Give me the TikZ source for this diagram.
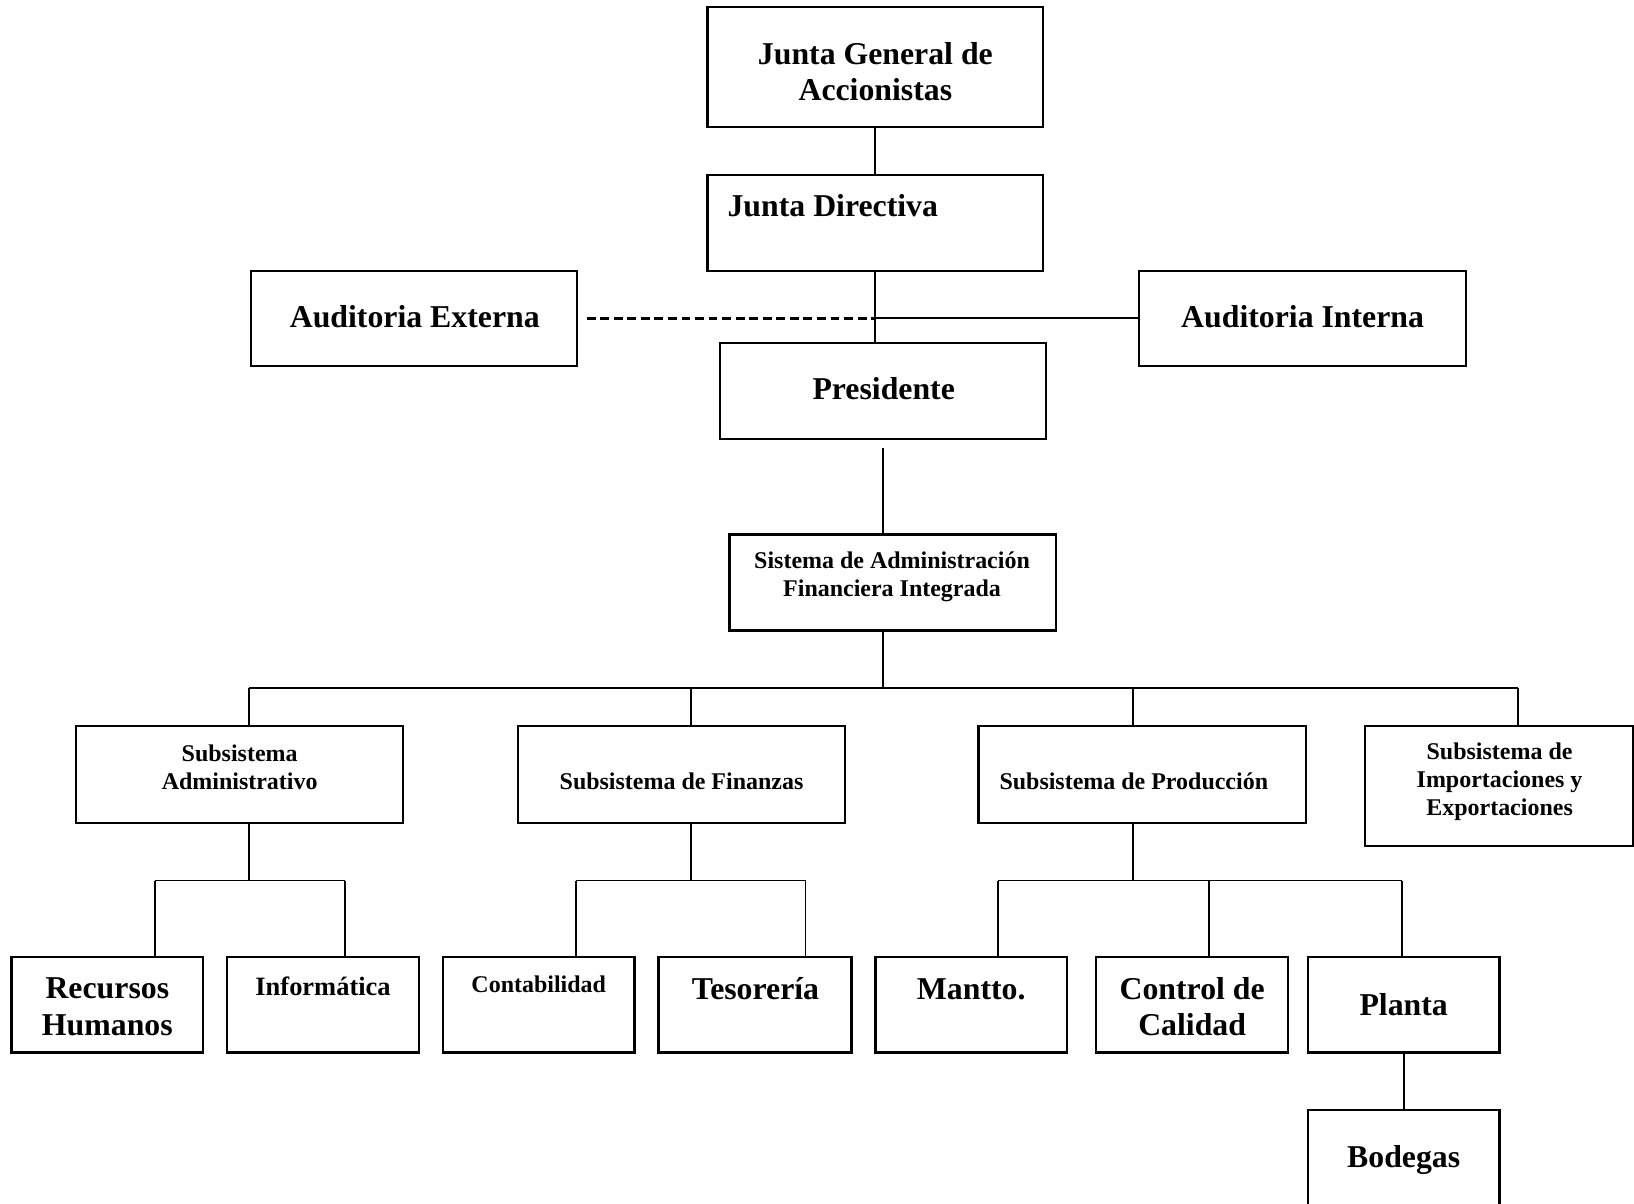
\documentclass[tikz,border=0pt]{standalone}
\usepackage{fontspec}
\setmainfont{Liberation Serif}
\usetikzlibrary{calc}
\begin{document}
\begin{tikzpicture}[x=1pt,y=-1pt,
  unit/.style={draw, rectangle, line width=2.2pt, inner sep=0pt, outer sep=0pt},
  big/.style={font=\fontsize{30.5}{35}\selectfont\bfseries, align=center, inner sep=0pt},
  mid/.style={font=\fontsize{25.4}{29}\selectfont\bfseries, align=center, inner sep=0pt},
  small/.style={font=\fontsize{23}{27}\selectfont\bfseries, align=center, inner sep=0pt},
  link/.style={line width=1.7pt},
  dashlink/.style={line width=2.6pt, dash pattern=on 8.5pt off 4.5pt}]
\useasboundingbox (0,0) rectangle (1568,1155);
\clip (0,0) rectangle (1568,1155);

% ---------- upper levels ----------
\node[unit, minimum width=322, minimum height=115] (jg) at (840,64.5) {};
\node[big] (jgT) at (840,68.5) {Junta General de\\Accionistas};

\node[unit, minimum width=322, minimum height=92] (jd) at (840,214) {};
\node[big, anchor=west] (jdT) at (698,197) {Junta Directiva};

\node[unit, minimum width=313, minimum height=91] (ae) at (397.5,305.5) {};
\node[big] (aeT) at (398,304) {Auditoria Externa};

\node[unit, minimum width=314, minimum height=91] (ai) at (1250,305.5) {};
\node[big] (aiT) at (1250,304) {Auditoria Interna};

\node[unit, minimum width=313, minimum height=92] (pr) at (847.5,375) {};
\node[big] (prT) at (848,373) {Presidente};

\node[unit, minimum width=313, minimum height=92] (sa) at (856.5,559) {};
\node[small] (saT) at (856,553.5) {Sistema de Administración\\Financiera Integrada};

% ---------- subsystems ----------
\node[unit, minimum width=314, minimum height=93] (s1) at (230,743.5) {};
\node[small] (s1T) at (230,736.5) {Subsistema\\Administrativo};

\node[unit, minimum width=314, minimum height=93] (s2) at (654,743.5) {};
\node[small] (s2T) at (654,749.5) {Subsistema de Finanzas};

\node[unit, minimum width=314, minimum height=93] (s3) at (1096,743.5) {};
\node[small] (s3T) at (1088,749.5) {Subsistema de Producción};

\node[unit, minimum width=257, minimum height=115] (s4) at (1438.5,754.5) {};
\node[small] (s4T) at (1439,750) {Subsistema de\\Importaciones y\\Exportaciones};

% ---------- departments ----------
\node[unit, minimum width=184, minimum height=92] (rh) at (103,964) {};
\node[big] (rhT) at (103,966) {Recursos\\Humanos};

\node[unit, minimum width=184, minimum height=92] (inf) at (310,964) {};
\node[mid] (infT) at (310,946) {Informática};

\node[unit, minimum width=184, minimum height=92] (con) at (517,964) {};
\node[small] (conT) at (517,944.5) {Contabilidad};

\node[unit, minimum width=185, minimum height=92] (tes) at (724.5,964) {};
\node[big] (tesT) at (725,949) {Tesorería};

\node[unit, minimum width=184, minimum height=92] (man) at (932,964) {};
\node[big] (manT) at (932,949) {Mantto.};

\node[unit, minimum width=184, minimum height=92] (cc) at (1144,964) {};
\node[big] (ccT) at (1144,966) {Control de\\Calidad};

\node[unit, minimum width=184, minimum height=92] (pl) at (1347,964) {};
\node[big] (plT) at (1347,964) {Planta};

% the lowest box runs on past the bottom edge of the sheet
\node[unit, minimum width=184, minimum height=130] (bo) at (1347,1130) {};
\node[big] (boT) at (1347,1113) {Bodegas};

% ---------- connectors: top ----------
\draw[link] (jg.south) -- (jd.north);
\draw[link] (jd.south) -- (jd.south |- pr.north);
\coordinate (aud) at (jd.south |- ai.west);
\draw[link] (aud) -- (ai.west);
\coordinate (aeEnd) at ($(ae.east)+(9,0)$);
\draw[dashlink] (aeEnd) -- (aud);

\coordinate (prLow) at ($(pr.south)+(-0.5,9)$);
\draw[link] (prLow) -- (prLow |- sa.north);

% ---------- connectors: subsystem bus ----------
\coordinate (bus) at (847,660);
\coordinate (b1) at (239,660);
\coordinate (b2) at (663,660);
\coordinate (b3) at (1087,660);
\coordinate (b4) at (1457,660);
\draw[link] (bus |- sa.south) -- (bus);
\draw[link] (b1) -- (b4);
\draw[link] (b1) -- (b1 |- s1.north);
\draw[link] (b2) -- (b2 |- s2.north);
\draw[link] (b3) -- (b3 |- s3.north);
\draw[link] (b4) -- (b4 |- s4.north);

% ---------- connectors: departments ----------
\coordinate (a0) at (239,845);
\coordinate (a1) at (149,845);
\coordinate (a2) at (331,845);
\draw[link] (a0 |- s1.south) -- (a0);
\draw[link] (a1) -- (a2);
\draw[link] (a1) -- (a1 |- rh.north);
\draw[link] (a2) -- (a2 |- inf.north);

\coordinate (f0) at (663,845);
\coordinate (f1) at (553,845);
\coordinate (f2) at (773,845);
\draw[link] (f0 |- s2.south) -- (f0);
\draw[link] (f1) -- (f2);
\draw[link] (f1) -- (f1 |- con.north);
\draw[link] (f2) -- (f2 |- tes.north);

\coordinate (p0) at (1087,845);
\coordinate (p1) at (958,845);
\coordinate (p2) at (1160,845);
\coordinate (p3) at (1345,845);
\draw[link] (p0 |- s3.south) -- (p0);
\draw[link] (p1) -- (p3);
\draw[link] (p1) -- (p1 |- man.north);
\draw[link] (p2) -- (p2 |- cc.north);
\draw[link] (p3) -- (p3 |- pl.north);

\draw[link] (pl.south) -- (bo.north);
\end{tikzpicture}
\end{document}
